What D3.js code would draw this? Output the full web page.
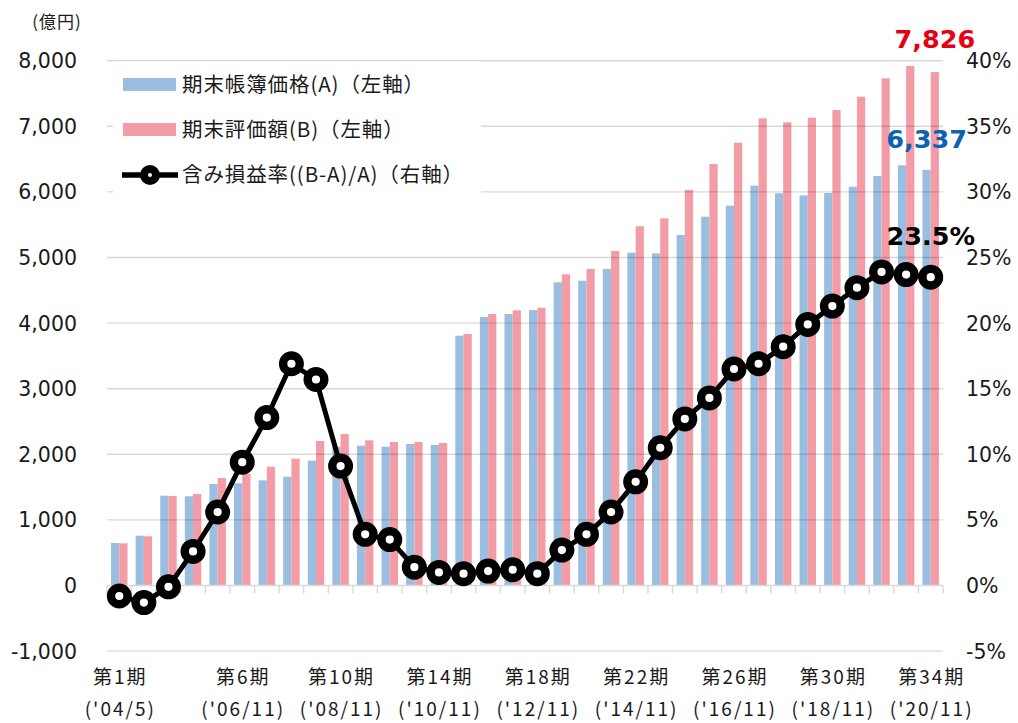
<!DOCTYPE html>
<html>
<head>
<meta charset="utf-8">
<script src="https://cdn.jsdelivr.net/npm/d3@7/dist/d3.min.js"></script>
<style>
  html, body { margin: 0; padding: 0; background: #ffffff; }
  svg { display: block; }
</style>
</head>
<body>
<svg id="chart" width="1018" height="723"></svg>
<script>
// Periods (fiscal terms)
const periods = [
  "第1期","第2期","第3期","第4期","第5期","第6期","第7期","第8期","第9期","第10期",
  "第11期","第12期","第13期","第14期","第15期","第16期","第17期","第18期","第19期","第20期",
  "第21期","第22期","第23期","第24期","第25期","第26期","第27期","第28期","第29期","第30期",
  "第31期","第32期","第33期","第34期"
];

// Book value at term end (A), 億円
const bookValue = [
  648, 759, 1369, 1360, 1547, 1558, 1603, 1659, 1903, 2116,
  2131, 2116, 2157, 2142, 3808, 4093, 4139, 4200, 4622, 4646,
  4825, 5073, 5064, 5343, 5622, 5790, 6095, 5979, 5948, 5983,
  6080, 6242, 6405, 6337
];

// Appraisal value at term end (B), 億円
const appraisalValue = [
  643, 750, 1364, 1395, 1639, 1705, 1811, 1933, 2203, 2309,
  2213, 2188, 2188, 2172, 3834, 4139, 4195, 4235, 4744, 4825,
  5099, 5476, 5597, 6029, 6425, 6750, 7122, 7061, 7131, 7248,
  7451, 7732, 7919, 7826
];

// Unrealized gain ratio ((B-A)/A), %
const gainRatio = [
  -0.8, -1.3, -0.1, 2.6, 5.6, 9.4, 12.8, 16.9, 15.7, 9.1,
  3.9, 3.5, 1.4, 1.0, 0.9, 1.1, 1.2, 0.9, 2.7, 3.9,
  5.6, 7.9, 10.5, 12.7, 14.3, 16.5, 16.9, 18.2, 19.9, 21.3,
  22.7, 23.9, 23.7, 23.5
];

// Axis ticks
const leftTicks = [-1000, 0, 1000, 2000, 3000, 4000, 5000, 6000, 7000, 8000];
const rightTicks = [-5, 0, 5, 10, 15, 20, 25, 30, 35, 40];
const xTickPeriods = ["第1期","第6期","第10期","第14期","第18期","第22期","第26期","第30期","第34期"];
const xTickDates = ["('04/5)","('06/11)","('08/11)","('10/11)","('12/11)","('14/11)","('16/11)","('18/11)","('20/11)"];

// Legend entries
const legendLabels = ["期末帳簿価格(A)（左軸）", "期末評価額(B)（左軸）", "含み損益率((B-A)/A)（右軸）"];

const COLOR_A = "#9abedf";
const COLOR_B = "#f39ca5";
const NUM_FONT = "'DejaVu Sans', Verdana, sans-serif";
const JP_FONT = "'Noto Sans CJK JP', 'Noto Sans', sans-serif";

const svg = d3.select("#chart");

const plot = { left: 107, right: 943, top: 60.7, bottom: 651.1 };

const x = d3.scaleBand()
  .domain(periods)
  .range([plot.left, plot.right])
  .paddingInner(0.33)
  .paddingOuter(0.165);

const yLeft = d3.scaleLinear().domain([-1000, 8000]).range([plot.bottom, plot.top]);
const yRight = d3.scaleLinear().domain([-5, 40]).range([plot.bottom, plot.top]);

const bw = x.bandwidth() / 2;
const cx = p => x(p) + x.bandwidth() / 2;

// Bars
const barG = svg.append("g");
barG.selectAll("rect.a").data(periods).join("rect")
  .attr("class", "a")
  .attr("x", p => x(p))
  .attr("width", bw)
  .attr("y", (p, i) => Math.min(yLeft(bookValue[i]), yLeft(0)))
  .attr("height", (p, i) => Math.abs(yLeft(0) - yLeft(bookValue[i])))
  .attr("fill", COLOR_A);

barG.selectAll("rect.b").data(periods).join("rect")
  .attr("class", "b")
  .attr("x", p => x(p) + bw)
  .attr("width", bw)
  .attr("y", (p, i) => Math.min(yLeft(appraisalValue[i]), yLeft(0)))
  .attr("height", (p, i) => Math.abs(yLeft(0) - yLeft(appraisalValue[i])))
  .attr("fill", COLOR_B);

// Horizontal gridlines (drawn over the bars)
const gridG = svg.append("g");
gridG.selectAll("line").data(leftTicks.filter(t => t !== 0)).join("line")
  .attr("x1", plot.left).attr("x2", plot.right)
  .attr("y1", d => yLeft(d)).attr("y2", d => yLeft(d))
  .attr("stroke", "rgba(0,0,0,0.15)")
  .attr("stroke-width", 1.4);

// Category axis at zero with boundary ticks
const axisG = svg.append("g");
axisG.append("line")
  .attr("x1", plot.left).attr("x2", plot.right)
  .attr("y1", yLeft(0)).attr("y2", yLeft(0))
  .attr("stroke", "#d9d9d9").attr("stroke-width", 1.4);
const boundaries = d3.range(periods.length + 1).map(k => plot.left + k * x.step());
axisG.selectAll("line.tick").data(boundaries).join("line")
  .attr("class", "tick")
  .attr("x1", d => d).attr("x2", d => d)
  .attr("y1", yLeft(0)).attr("y2", yLeft(0) + 8)
  .attr("stroke", "#d9d9d9").attr("stroke-width", 1.4);

// Legend box (white panel over the gridlines)
const legendG = svg.append("g");
legendG.append("rect")
  .attr("x", 113).attr("y", 61.5).attr("width", 368).attr("height", 133)
  .attr("fill", "#ffffff");

const legendRows = [84.5, 129.5, 175];
legendG.append("rect").attr("x", 123).attr("y", legendRows[0] - 6.5).attr("width", 53).attr("height", 13).attr("fill", COLOR_A);
legendG.append("rect").attr("x", 123).attr("y", legendRows[1] - 6.5).attr("width", 53).attr("height", 13).attr("fill", COLOR_B);
legendG.append("line")
  .attr("x1", 122).attr("x2", 178).attr("y1", legendRows[2]).attr("y2", legendRows[2])
  .attr("stroke", "#000").attr("stroke-width", 5.5);
legendG.append("circle")
  .attr("cx", 150).attr("cy", legendRows[2]).attr("r", 6)
  .attr("fill", "#fff").attr("stroke", "#000").attr("stroke-width", 8);
legendG.selectAll("text").data(legendLabels).join("text")
  .attr("x", 182)
  .attr("y", (d, i) => legendRows[i] + 7)
  .attr("font-family", JP_FONT)
  .attr("font-size", 20.5)
  .attr("letter-spacing", 0.9)
  .attr("fill", "#1a1a1a")
  .text(d => d);

// Ratio line with ring markers
const line = d3.line()
  .x((d, i) => cx(periods[i]))
  .y(d => yRight(d));
const lineG = svg.append("g");
lineG.append("path")
  .datum(gainRatio)
  .attr("d", line)
  .attr("fill", "none")
  .attr("stroke", "#000")
  .attr("stroke-width", 5)
  .attr("stroke-linejoin", "round");
lineG.selectAll("circle").data(gainRatio).join("circle")
  .attr("cx", (d, i) => cx(periods[i]))
  .attr("cy", d => yRight(d))
  .attr("r", 8.3)
  .attr("fill", "#fff")
  .attr("stroke", "#000")
  .attr("stroke-width", 8.4);

// Left axis labels
const fmtLeft = d3.formatLocale({ decimal: ".", thousands: ",", grouping: [3], currency: ["", ""], minus: "-" }).format(",");
svg.append("g").selectAll("text").data(leftTicks).join("text")
  .attr("x", 77)
  .attr("y", d => yLeft(d) + 7.5)
  .attr("text-anchor", "end")
  .attr("font-family", NUM_FONT)
  .attr("font-size", 20.5)
  .attr("fill", "#1a1a1a")
  .text(d => fmtLeft(d));

// Right axis labels
svg.append("g").selectAll("text").data(rightTicks).join("text")
  .attr("x", 966)
  .attr("y", d => yRight(d) + 7.5)
  .attr("text-anchor", "start")
  .attr("font-family", NUM_FONT)
  .attr("font-size", 20.5)
  .attr("fill", "#1a1a1a")
  .text(d => (d < 0 ? "-" + Math.abs(d) : d) + "%");

// Unit label
svg.append("text")
  .attr("x", 57).attr("y", 28)
  .attr("text-anchor", "middle")
  .attr("font-family", JP_FONT)
  .attr("font-size", 17)
  .attr("letter-spacing", 1)
  .attr("fill", "#1a1a1a")
  .text("(億円)");

// Category labels
const xLabG = svg.append("g");
xLabG.selectAll("text.p").data(xTickPeriods).join("text")
  .attr("class", "p")
  .attr("x", d => cx(d) + 1)
  .attr("y", 684)
  .attr("text-anchor", "middle")
  .attr("font-family", JP_FONT)
  .attr("font-size", 19)
  .attr("letter-spacing", 2)
  .attr("fill", "#1a1a1a")
  .text(d => d);
xLabG.selectAll("text.d").data(xTickDates).join("text")
  .attr("class", "d")
  .attr("x", (d, i) => cx(xTickPeriods[i]) + 1)
  .attr("y", 716)
  .attr("text-anchor", "middle")
  .attr("font-family", JP_FONT)
  .attr("font-size", 19)
  .attr("letter-spacing", 2)
  .attr("fill", "#1a1a1a")
  .text(d => d);

// Latest-term value callouts
const last = periods.length - 1;
const lastP = periods[last];
const fmtNum = d3.format(",");
svg.append("text")
  .attr("x", x(lastP) + bw * 1.5)
  .attr("y", yLeft(appraisalValue[last]) - 24)
  .attr("text-anchor", "middle")
  .attr("font-family", NUM_FONT)
  .attr("font-weight", "bold")
  .attr("font-size", 25.5)
  .attr("fill", "#e60012")
  .text(fmtNum(appraisalValue[last]));
svg.append("text")
  .attr("x", x(lastP) + bw * 0.5)
  .attr("y", yLeft(bookValue[last]) - 22)
  .attr("text-anchor", "middle")
  .attr("font-family", NUM_FONT)
  .attr("font-weight", "bold")
  .attr("font-size", 25.5)
  .attr("fill", "#0b62b4")
  .text(fmtNum(bookValue[last]));
svg.append("text")
  .attr("x", cx(lastP))
  .attr("y", yRight(gainRatio[last]) - 32)
  .attr("text-anchor", "middle")
  .attr("font-family", NUM_FONT)
  .attr("font-weight", "bold")
  .attr("font-size", 25.5)
  .attr("fill", "#000")
  .text(gainRatio[last].toFixed(1) + "%");
</script>
</body>
</html>
